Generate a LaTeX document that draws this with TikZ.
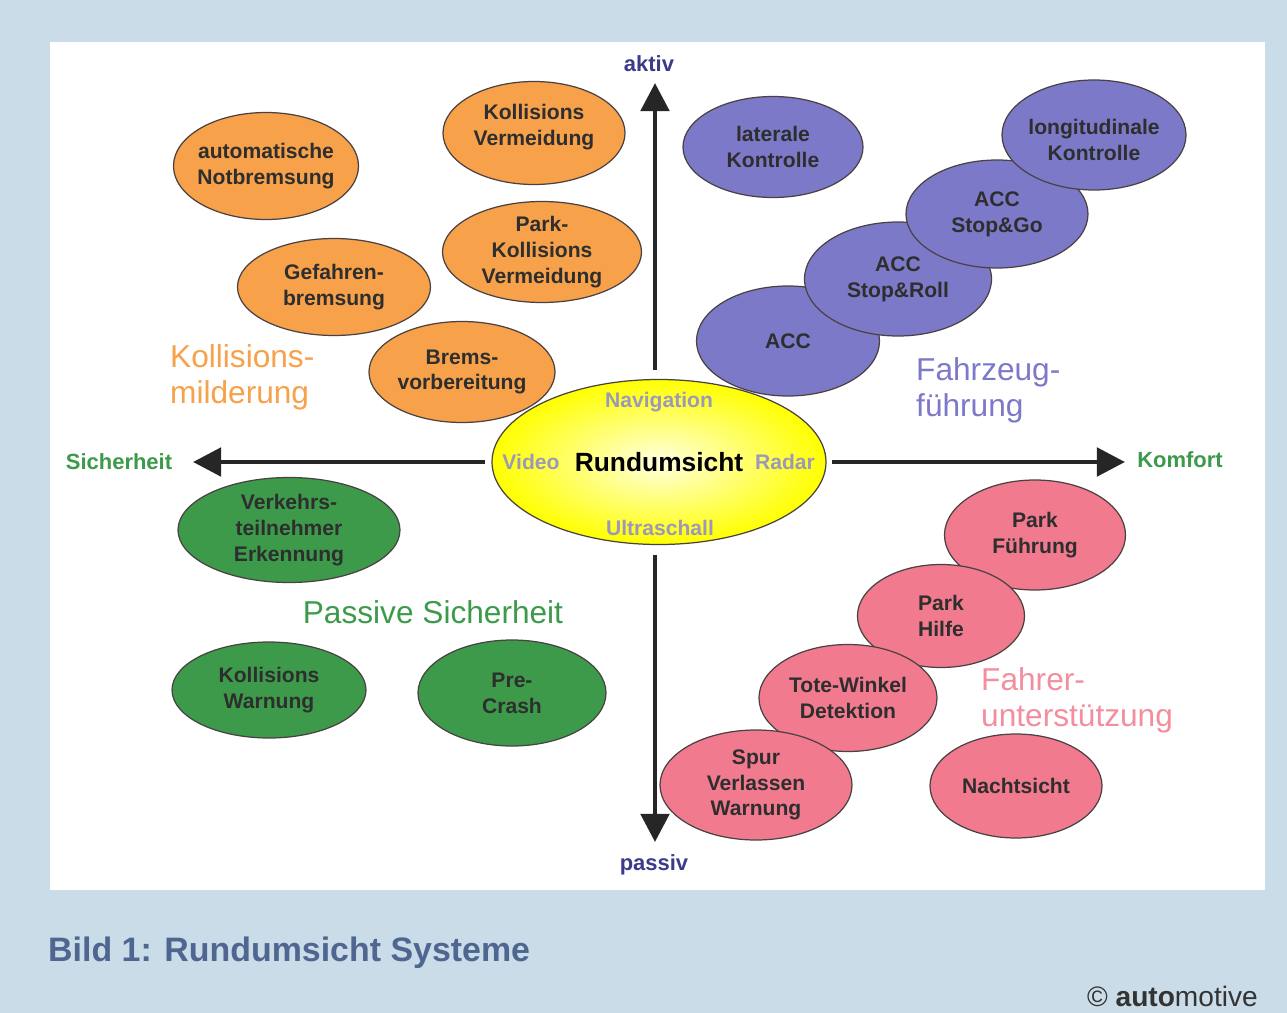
\documentclass[tikz,border=0pt]{standalone}
\usepackage{fontspec}
\setmainfont{Liberation Sans}
\usetikzlibrary{arrows.meta,shapes.geometric}
\definecolor{paper}{HTML}{C9DCE8}
\definecolor{ora}{HTML}{F7A14B}
\definecolor{lila}{HTML}{7C79C9}
\definecolor{gruen}{HTML}{3C9A4A}
\definecolor{rosa}{HTML}{F17A8E}
\definecolor{rim}{HTML}{4A4242}
\definecolor{txt}{HTML}{2E2E2E}
\definecolor{sensor}{HTML}{9C98B8}
\definecolor{titel}{HTML}{4F6690}
\definecolor{achse}{HTML}{3E3A8A}

\begin{document}
\begin{tikzpicture}[x=0.2mm,y=-0.2mm,
  every node/.style={font=\bfseries\fontsize{12}{14.7}\selectfont,text=txt,align=center},
  blob/.style={ellipse,draw=rim,line width=0.7pt,inner sep=0pt},
  orab/.style={blob,fill=ora},
  lilab/.style={blob,fill=lila},
  gruenb/.style={blob,fill=gruen},
  rosab/.style={blob,fill=rosa},
  group/.style={font=\fontsize{18}{20.4}\selectfont,align=left,anchor=west},
  axis/.style={line width=2.8pt,draw=black!85,-{Triangle[length=16pt,width=16pt]}},
  axlabel/.style={font=\bfseries\fontsize{12.5}{14}\selectfont},
  sens/.style={font=\bfseries\fontsize{12}{14}\selectfont,text=sensor}]
\useasboundingbox (0,0) rectangle (1287,1013);
\fill[paper] (0,0) rectangle (1287,1013);
\fill[white] (50,42) rectangle (1265,890);

% axes
\coordinate (up0) at (655,370);
\coordinate (up1) at (655,83);
\coordinate (dn0) at (655,555);
\coordinate (dn1) at (655,842);
\coordinate (lf0) at (485,462);
\coordinate (lf1) at (193,462);
\coordinate (rt0) at (832,462);
\coordinate (rt1) at (1125,462);
\draw[axis] (up0) -- (up1);
\draw[axis] (dn0) -- (dn1);
\draw[axis] (lf0) -- (lf1);
\draw[axis] (rt0) -- (rt1);
\node[axlabel,text=achse] (aktiv) at (649,64) {aktiv};
\node[axlabel,text=achse] (passiv) at (654,865) {passiv};
\node[axlabel,text=gruen] (sicher) at (119,462) {Sicherheit};
\node[axlabel,text=gruen] (komfort) at (1180,460) {Komfort};

% Kollisionsmilderung
\node[orab,minimum width=37mm,minimum height=21.4mm,label=center:{automatische\\Notbremsung}] (notbrems) at (266,166) {};
\node[orab,minimum width=36.4mm,minimum height=20.6mm,label={[yshift=1.2mm]center:{Kollisions\\Vermeidung}}] (kollverm) at (534,133) {};
\node[orab,minimum width=38.6mm,minimum height=19.4mm,label=center:{Gefahren-\\bremsung}] (gefahr) at (334,287) {};
\node[orab,minimum width=39.8mm,minimum height=20.2mm,label=center:{Park-\\Kollisions\\Vermeidung}] (parkkoll) at (542,252) {};
\node[orab,minimum width=37.2mm,minimum height=20.2mm,label=center:{Brems-\\vorbereitung}] (bremsvor) at (462,372) {};
\node[group,text=ora] (milder) at (164,377) {Kollisions-\\milderung};

% Fahrzeugfuehrung
\node[lilab,minimum width=36mm,minimum height=20.2mm,label=center:{laterale\\Kontrolle}] (lateral) at (773,147) {};
\node[lilab,minimum width=36.6mm,minimum height=22mm,label=center:{ACC}] (acc) at (788,341) {};
\node[lilab,minimum width=37.4mm,minimum height=22.8mm,label=center:{ACC\\Stop\&Roll}] (stoproll) at (898,279) {};
\node[lilab,minimum width=36.4mm,minimum height=21.6mm,label=center:{ACC\\Stop\&Go}] (stopgo) at (997,214) {};
\node[lilab,minimum width=36.8mm,minimum height=22mm,label={[yshift=-1mm]center:{longitudinale\\Kontrolle}}] (longit) at (1094,135) {};
\node[group,text=lila] (fuehrung) at (910,390) {Fahrzeug-\\führung};

% Rundumsicht
\node[blob,minimum width=66.8mm,minimum height=33mm,inner color=yellow!12,outer color=yellow,
  label={[font=\bfseries\fontsize{15}{17}\selectfont,text=black]center:Rundumsicht}] (rund) at (659,462) {};
\node[sens] (navi) at (659,402) {Navigation};
\node[sens] (video) at (531,462) {Video};
\node[sens] (radar) at (785,462) {Radar};
\node[sens] (ultra) at (660,528) {Ultraschall};

% Passive Sicherheit
\node[gruenb,minimum width=44.4mm,minimum height=21mm,label=center:{Verkehrs-\\teilnehmer\\Erkennung}] (verkehr) at (289,530) {};
\node[gruenb,minimum width=38.8mm,minimum height=19.2mm,label=center:{Kollisions\\Warnung}] (kollwarn) at (269,690) {};
\node[gruenb,minimum width=37.6mm,minimum height=21.2mm,label=center:{Pre-\\Crash}] (precrash) at (512,693) {};
\node[font=\fontsize{18}{20}\selectfont,text=gruen] (passive) at (433,612) {Passive Sicherheit};

% Fahrerunterstuetzung
\node[rosab,minimum width=36.2mm,minimum height=22mm,label=center:{Park\\Führung}] (parkf) at (1035,535) {};
\node[rosab,minimum width=33.4mm,minimum height=20.6mm,label=center:{Park\\Hilfe}] (parkh) at (941,616) {};
\node[rosab,minimum width=35.6mm,minimum height=21.4mm,label=center:{Tote-Winkel\\Detektion}] (totw) at (848,698) {};
\node[rosab,minimum width=38.4mm,minimum height=22mm,label=center:{Spur\\Verlassen\\Warnung}] (spur) at (756,785) {};
\node[rosab,minimum width=34.4mm,minimum height=20.8mm,label=center:{Nachtsicht}] (nacht) at (1016,786) {};
\node[group,text=rosa!85!white] (unterst) at (975,700) {Fahrer-\\unterstützung};

% caption
\node[font=\bfseries\fontsize{19.3}{22}\selectfont,text=titel,anchor=west] (bild) at (42,953) {Bild 1: Rundumsicht Systeme};
\node[font=\fontsize{16}{18}\selectfont,text=black!80,anchor=east] (logo) at (1264,996) {\textcopyright\ \textbf{auto}motive};
\end{tikzpicture}
\end{document}
